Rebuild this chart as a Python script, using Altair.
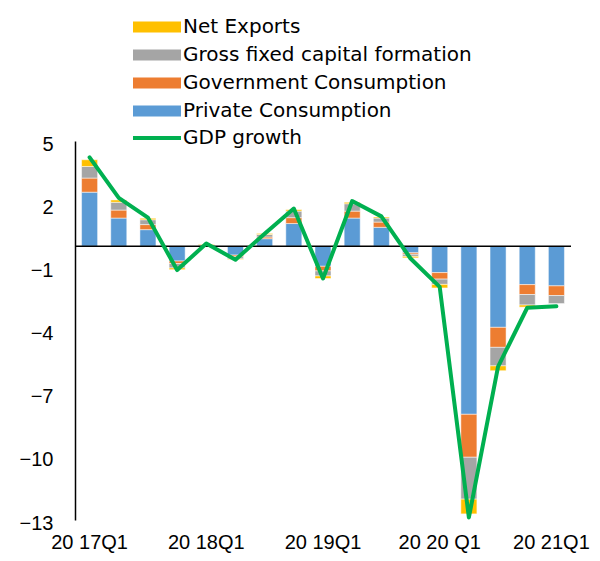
import altair as alt
import pandas as pd

quarters = ["2017Q1", "2017Q2", "2017Q3", "2017Q4",
            "2018Q1", "2018Q2", "2018Q3", "2018Q4",
            "2019Q1", "2019Q2", "2019Q3", "2019Q4",
            "2020Q1", "2020Q2", "2020Q3", "2020Q4",
            "2021Q1"]

private_consumption = [2.57, 1.34, 0.79, -0.70, 0.00, -0.42, 0.36, 1.08, -0.95,
                       1.34, 0.90, -0.31, -1.25, -7.98, -3.85, -1.82, -1.88]
government_consumption = [0.67, 0.38, 0.24, -0.12, 0.05, -0.08, 0.08, 0.28, -0.22,
                          0.33, 0.25, -0.07, -0.31, -2.04, -0.95, -0.47, -0.46]
gross_fixed_capital = [0.55, 0.37, 0.23, -0.21, 0.02, -0.10, 0.12, 0.31, -0.24,
                       0.35, 0.19, -0.10, -0.25, -1.99, -0.88, -0.50, -0.38]
net_exports = [0.32, 0.11, 0.07, -0.08, 0.03, -0.03, 0.05, 0.07, -0.12,
               0.07, 0.05, -0.07, -0.17, -0.70, -0.23, -0.10, 0.00]
gdp_growth = [4.22, 2.30, 1.36, -1.13, 0.13, -0.64, 0.60, 1.79, -1.53,
              2.15, 1.42, -0.58, -1.93, -12.88, -5.72, -2.92, -2.85]

tick_labels = {"2017Q1": "20 17Q1", "2018Q1": "20 18Q1", "2019Q1": "20 19Q1",
               "2020Q1": "20 20 Q1", "2021Q1": "20 21Q1"}
y_ticks = [5, 2, -1, -4, -7, -10, -13]

stack_names = ["Private Consumption", "Government Consumption",
               "Gross fixed capital formation", "Net Exports"]
legend_order = ["Net Exports", "Gross fixed capital formation",
                "Government Consumption", "Private Consumption"]
legend_colors = ["#FFC000", "#A5A5A5", "#ED7D31", "#5B9BD5"]

rows = []
for i, q in enumerate(quarters):
    for k, (name, vals) in enumerate(zip(stack_names, [private_consumption, government_consumption,
                                                        gross_fixed_capital, net_exports])):
        rows.append({"quarter": q, "component": name, "value": vals[i], "order": k})
bars_df = pd.DataFrame(rows)
line_df = pd.DataFrame({"quarter": quarters, "gdp": gdp_growth, "series": ["GDP growth"] * len(quarters)})
zero_df = pd.DataFrame({"z": [0]})

FONT = "Liberation Sans"
LEGEND_FONT = "DejaVu Sans"
label_expr = " : ".join(f"datum.value === '{k}' ? '{v}'" for k, v in tick_labels.items()) + " : ''"
last_q = quarters[-1]

x_enc = alt.X("quarter:N", sort=quarters,
              scale=alt.Scale(paddingInner=0.45, paddingOuter=0.225),
              axis=alt.Axis(values=list(tick_labels.keys()), labelExpr=label_expr, title=None,
                            domain=False, ticks=False, labelAngle=0, labelPadding=12,
                            labelOffset={"expr": f"datum.value === '{last_q}' ? -5 : 0"},
                            labelFontSize=20, labelFont=FONT, labelColor="black"))
y_axis = alt.Axis(values=y_ticks, title=None, grid=False, ticks=False,
                  domainColor="black", domainWidth=1.5, labelPadding=22,
                  labelFontSize=20, labelFont=FONT, labelColor="black", labelOffset=3)
y_scale = alt.Scale(domain=[-13, 5], nice=False, zero=False)

bars = alt.Chart(bars_df).mark_bar(stroke="white", strokeWidth=0.5).encode(
    x=x_enc,
    y=alt.Y("value:Q", stack="zero", scale=y_scale, axis=y_axis),
    color=alt.Color("component:N",
                    scale=alt.Scale(domain=legend_order, range=legend_colors),
                    legend=alt.Legend(orient="none", legendX=72, legendY=-124, title=None,
                                      symbolType="M-4,-0.9H4V0.9H-4Z", symbolSize=144,
                                      symbolStrokeWidth=0, labelFontSize=20, labelFont=LEGEND_FONT,
                                      labelColor="black", labelOffset=16, rowPadding=8,
                                      padding=0, labelLimit=500)),
    order=alt.Order("order:Q", sort="ascending"),
)

zero_rule = alt.Chart(zero_df).mark_rule(color="black", strokeWidth=1.5).encode(
    y=alt.Y("z:Q", scale=y_scale, axis=y_axis)
)

line = alt.Chart(line_df).mark_line(strokeWidth=4, strokeJoin="round", strokeCap="round").encode(
    x=x_enc,
    y=alt.Y("gdp:Q", scale=y_scale, axis=y_axis),
    stroke=alt.Stroke("series:N",
                      scale=alt.Scale(domain=["GDP growth"], range=["#00B050"]),
                      legend=alt.Legend(orient="none", legendX=72, legendY=-13, title=None,
                                        symbolType="M-4,0H4", symbolSize=144,
                                        symbolStrokeWidth=4, labelFontSize=20, labelFont=LEGEND_FONT,
                                        labelColor="black", labelOffset=16,
                                        padding=0, labelLimit=500)),
)

chart = alt.layer(bars, zero_rule, line).properties(
    width=496, height=379,
    autosize=alt.AutoSizeParams(type="none"),
    padding={"left": 67, "top": 133, "right": 21, "bottom": 33},
    background="white",
).configure_view(stroke=None)

chart.save("out.html", embed_options={"renderer": "svg", "actions": False})
